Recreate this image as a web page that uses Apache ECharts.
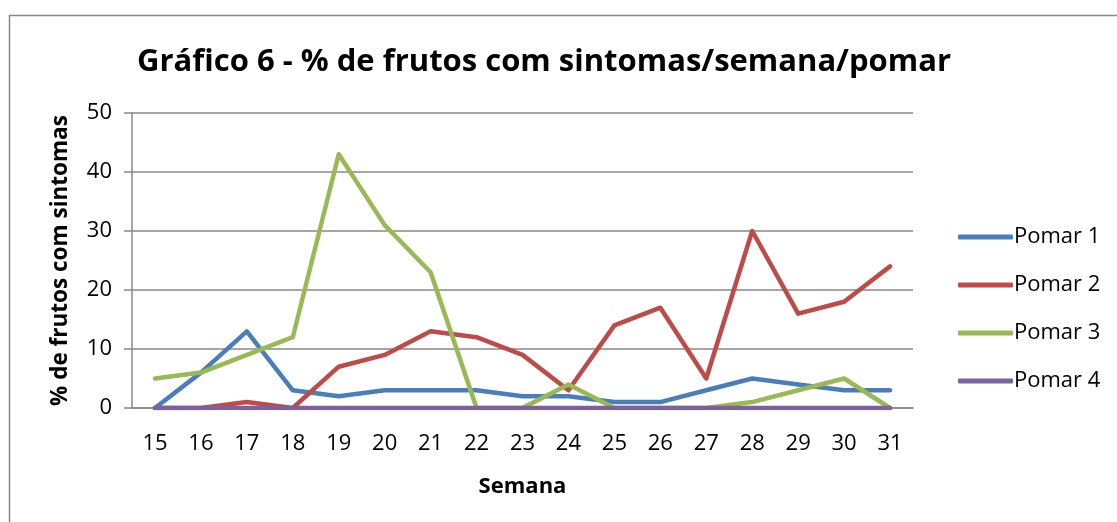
<!DOCTYPE html>
<html lang="pt">
<head>
    <meta charset="UTF-8">
    <title>Gráfico 6</title>
    <script src="https://cdn.jsdelivr.net/npm/echarts@6/dist/echarts.min.js"></script>
    <style>
        html, body { margin: 0; padding: 0; background: #fff; }
        #main { width: 1117px; height: 522px; }
    </style>
</head>
<body>
<div id="main"></div>
<script>
    // semanas
    var semanas = ['15', '16', '17', '18', '19', '20', '21', '22', '23', '24', '25', '26', '27', '28', '29', '30', '31'];
    var pomar1 = [0, 6, 13, 3, 2, 3, 3, 3, 2, 2, 1, 1, 3, 5, 4, 3, 3];
    var pomar2 = [0, 0, 1, 0, 7, 9, 13, 12, 9, 3, 14, 17, 5, 30, 16, 18, 24];
    var pomar3 = [5, 6, 9, 12, 43, 31, 23, 0, 0, 4, 0, 0, 0, 1, 3, 5, 0];
    var pomar4 = [0, 0, 0, 0, 0, 0, 0, 0, 0, 0, 0, 0, 0, 0, 0, 0, 0];
    var cores = ['#4A7EBB', '#BE4B48', '#98B954', '#7D60A0'];
    var fonte = 'Open Sans';

    function serie(nome, dados, cor) {
        return {
            name: nome,
            type: 'line',
            data: dados,
            symbol: 'none',
            lineStyle: { width: 4.5, color: cor, cap: 'round', join: 'round' },
            itemStyle: { color: cor },
            animation: false
        };
    }

    var chart = echarts.init(document.getElementById('main'));
    chart.setOption({
        textStyle: { fontFamily: fonte },
        title: {
            text: 'Gráfico 6 - % de frutos com sintomas/semana/pomar',
            left: 539, top: 42, textAlign: 'center',
            textStyle: { fontSize: 31, fontWeight: 'bold', color: '#000', fontFamily: fonte }
        },
        graphic: [{
            type: 'rect', left: 7, top: 13,
            shape: { width: 1120, height: 520 },
            style: { fill: 'none', stroke: '#888', lineWidth: 1.5 }
        }],
        legend: {
            orient: 'vertical', left: 953, top: 221,
            itemWidth: 55, itemHeight: 5, itemGap: 26,
            icon: 'roundRect',
            textStyle: { fontSize: 22, color: '#000', padding: [0, 0, 0, -4] },
            data: ['Pomar 1', 'Pomar 2', 'Pomar 3', 'Pomar 4']
        },
        grid: { left: 132, right: 204, top: 113, bottom: 114 },
        xAxis: {
            type: 'category',
            data: semanas,
            boundaryGap: true,
            name: 'Semana', nameLocation: 'middle', nameGap: 68,
            nameTextStyle: { fontSize: 22, fontWeight: 'bold', color: '#000' },
            axisLine: { lineStyle: { color: '#888', width: 1.5 } },
            axisTick: { show: false },
            axisLabel: { fontSize: 22, color: '#000', margin: 25 }
        },
        yAxis: {
            type: 'value', min: 0, max: 50, interval: 10,
            name: '% de frutos com sintomas', nameLocation: 'middle', nameGap: 60,
            nameTextStyle: { fontSize: 22.5, fontWeight: 'bold', color: '#000' },
            axisLine: { show: true, lineStyle: { color: '#888', width: 1.5 } },
            axisTick: { show: true, length: 8, lineStyle: { color: '#888', width: 1.5 } },
            axisLabel: { fontSize: 22, color: '#000', margin: 20 },
            splitLine: { lineStyle: { color: '#888', width: 1.5 } }
        },
        series: [
            serie('Pomar 1', pomar1, cores[0]),
            serie('Pomar 2', pomar2, cores[1]),
            serie('Pomar 3', pomar3, cores[2]),
            serie('Pomar 4', pomar4, cores[3])
        ]
    });
</script>
</body>
</html>
